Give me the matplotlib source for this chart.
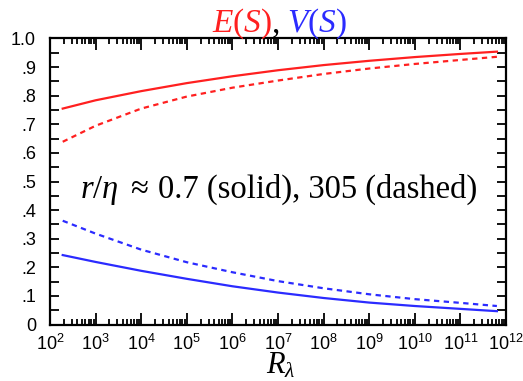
import matplotlib
matplotlib.use("Agg")
import matplotlib.pyplot as plt
from matplotlib.ticker import FixedLocator, LogLocator, FuncFormatter

plt.rcParams['font.family'] = ['Liberation Sans', 'DejaVu Sans']
plt.rcParams['mathtext.fontset'] = 'custom'
plt.rcParams['mathtext.rm'] = 'Liberation Serif'
plt.rcParams['mathtext.it'] = 'Liberation Serif:italic'

# Reynolds numbers where the curves are sampled
R_lambda = [190, 1e3, 1e4, 1e5, 1e6, 1e7, 1e8, 1e9, 1e10, 1e11, 6.3e11]

E_solid = [0.755, 0.784, 0.816, 0.844, 0.868, 0.889, 0.907, 0.922, 0.935, 0.946, 0.954]
E_dashed = [0.639, 0.695, 0.755, 0.797, 0.828, 0.853, 0.876, 0.895, 0.911, 0.925, 0.936]
V_solid = [0.243, 0.219, 0.188, 0.160, 0.134, 0.112, 0.093, 0.077, 0.065, 0.055, 0.047]
V_dashed = [0.363, 0.318, 0.262, 0.218, 0.183, 0.152, 0.127, 0.106, 0.089, 0.076, 0.065]

yticks = [0, 0.1, 0.2, 0.3, 0.4, 0.5, 0.6, 0.7, 0.8, 0.9, 1.0]
ylabels = ['0', '.1', '.2', '.3', '.4', '.5', '.6', '.7', '.8', '.9', '1.0']

red = '#ff2020'
blue = '#2b2bff'
W, H = 523, 381


def px(x, y):
    # pixel position (from top-left) -> figure fraction
    return x / W, (H - y) / H


fig = plt.figure(figsize=(W / 100, H / 100), dpi=100)
ax = fig.add_axes([0.0956, 0.148, 0.872, 0.751])

ax.plot(R_lambda, E_solid, color=red, lw=1.6)
ax.plot(R_lambda, E_dashed, color=red, lw=1.6, ls=(0, (2.4, 2.0)))
ax.plot(R_lambda, V_solid, color=blue, lw=1.6)
ax.plot(R_lambda, V_dashed, color=blue, lw=1.6, ls=(0, (2.4, 2.0)))

ax.set_xscale('log')
ax.set_xlim(1e2, 1e12)
ax.set_ylim(0, 1.0)

ax.xaxis.set_major_locator(LogLocator(base=10, numticks=20))
ax.xaxis.set_minor_locator(LogLocator(base=10, subs=range(2, 10), numticks=100))
ax.yaxis.set_major_locator(FixedLocator(yticks))
ax.yaxis.set_minor_locator(FixedLocator([0.05 + 0.1 * i for i in range(10)]))
ax.yaxis.set_major_formatter(FuncFormatter(lambda v, pos: ylabels[pos] if pos is not None and pos < len(ylabels) else ''))

for s in ax.spines.values():
    s.set_linewidth(1.6)
ax.tick_params(which='both', direction='in', top=True, right=True, width=1.3, labelsize=13)
ax.tick_params(which='major', length=8.5)
ax.tick_params(which='minor', length=4.5)
ax.tick_params(axis='x', which='major', pad=7)
ax.tick_params(axis='y', which='both', length=6.5)
ax.tick_params(axis='y', which='major', pad=10)

# annotation inside the axes
fig.text(*px(80, 198), r'$r/\eta\ \approx$', fontsize=23.5, ha='left', va='baseline')
fig.text(*px(158, 198), '0.7 (solid), 305 (dashed)', fontsize=23.5, ha='left', va='baseline',
         family='Liberation Serif')

# x axis label
fig.text(*px(266, 373), r'$R_\lambda$', fontsize=22, ha='left', va='baseline')

# coloured title pieces
fig.text(*px(212, 32), r'$E\mathrm{(}S\mathrm{)}$', color=red, fontsize=24, ha='left', va='baseline')
fig.text(*px(272, 32), ',', color='black', fontsize=24, ha='left', va='baseline', family='Liberation Serif')
fig.text(*px(287, 32), r'$V\mathrm{(}S\mathrm{)}$', color=blue, fontsize=24, ha='left', va='baseline')

fig.savefig('out.png', dpi=100)
